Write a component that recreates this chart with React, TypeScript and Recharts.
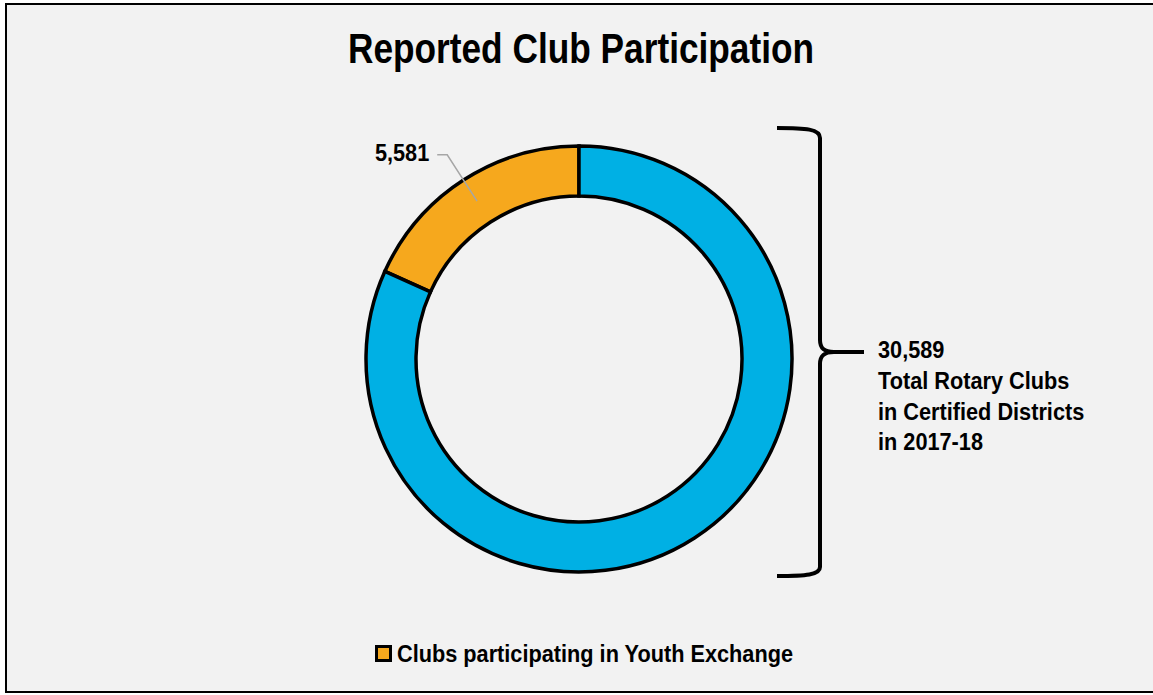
import React from "react";
import { PieChart, Pie, Cell, Legend } from "recharts";

const categories = ["Clubs participating in Youth Exchange", "Other clubs"];
const values = [5581, 25008];
const totalClubs = 30589;
const totalLabelLines = ["Total Rotary Clubs", "in Certified Districts", "in 2017-18"];
const colors = ["#F6A81D", "#00B0E4"];
const titleText = "Reported Club Participation";

const data = categories.map((name, i) => ({ name, value: values[i] }));

const FONT = '"Liberation Sans", Arial, sans-serif';
const TITLE_NARROW = 0.82;
const LABEL_NARROW = 0.905;
const fmt = (n: number) => n.toLocaleString("en-US");

const RAD = Math.PI / 180;

type NTProps = { x: number; y: number; size: number; sx?: number; anchor?: "start" | "middle" | "end"; children: React.ReactNode };
const NarrowText = ({ x, y, size, sx = LABEL_NARROW, anchor = "start", children }: NTProps) => (
  <g transform={`translate(${x},${y}) scale(${sx},1)`}>
    <text x={0} y={0} textAnchor={anchor} fontFamily={FONT} fontWeight="bold" fontSize={size} fill="#000">
      {children}
    </text>
  </g>
);

const renderLabel = (props: any) => {
  const { cx, cy, midAngle, innerRadius, outerRadius, value, index } = props;
  if (index !== 0) return null;
  const rMid = (innerRadius + outerRadius) / 2;
  const x1 = cx + rMid * Math.cos(-midAngle * RAD);
  const y1 = cy + rMid * Math.sin(-midAngle * RAD);
  const r2 = outerRadius + 30;
  const x2 = cx + r2 * Math.cos(-midAngle * RAD);
  const y2 = cy + r2 * Math.sin(-midAngle * RAD);
  const x3 = x2 - 10;
  return (
    <g>
      <polyline points={`${x1},${y1} ${x2},${y2} ${x3},${y2}`} fill="none" stroke="#A6A6A6" strokeWidth={1.5} />
      <NarrowText x={x3 - 8} y={y2 + 6.5} size={24} anchor="end">
        {fmt(value)}
      </NarrowText>
    </g>
  );
};

const LegendContent = () => (
  <svg width={1153} height={40} style={{ display: "block" }}>
    <rect x={376.5} y={6.5} width={14} height={14} fill={colors[0]} stroke="#000" strokeWidth={3} />
    <NarrowText x={397} y={22} size={24}>
      {categories[0]}
    </NarrowText>
  </svg>
);

export default function App() {
  return (
    <div style={{ position: "absolute", left: 0, top: 0, width: 1153, height: 695, background: "#fff", overflow: "hidden" }}>
      <div style={{ position: "absolute", left: 5, top: 3, width: 1200, height: 690, boxSizing: "border-box", border: "2.5px solid #000", background: "#F2F2F2" }} />
      <div style={{ position: "absolute", left: 0, top: 0 }}>
        <PieChart width={1153} height={695} margin={{ top: 0, right: 0, bottom: 0, left: 0 }}>
          <Pie
            data={data}
            dataKey="value"
            nameKey="name"
            cx={579}
            cy={359}
            innerRadius={163}
            outerRadius={213}
            startAngle={90}
            endAngle={450}
            stroke="#000"
            strokeWidth={3.5}
            label={renderLabel}
            labelLine={false}
            isAnimationActive={false}
          >
            {data.map((d, i) => (
              <Cell key={d.name} fill={colors[i]} stroke="#000" strokeWidth={3.5} />
            ))}
          </Pie>
          <Legend
            content={<LegendContent />}
            wrapperStyle={{ position: "absolute", left: 0, top: 640, bottom: "auto", width: 1153 }}
          />
        </PieChart>
      </div>
      <svg width={1153} height={695} style={{ position: "absolute", left: 0, top: 0, pointerEvents: "none" }}>
        <NarrowText x={581} y={63} size={43} sx={TITLE_NARROW} anchor="middle">
          {titleText}
        </NarrowText>
        <path
          d="M777,128 C806,128 820,129 820,138 L820,340 C820,348 824,352 834,352 L864,352 M834,352 C824,352 820,356 820,364 L820,567 C820,575 806,576 777,576"
          fill="none"
          stroke="#000"
          strokeWidth={4}
        />
        <NarrowText x={878} y={358} size={24}>{fmt(totalClubs)}</NarrowText>
        {totalLabelLines.map((t, i) => (
          <NarrowText key={t} x={878} y={389 + i * 30.7} size={24}>{t}</NarrowText>
        ))}
      </svg>
    </div>
  );
}
